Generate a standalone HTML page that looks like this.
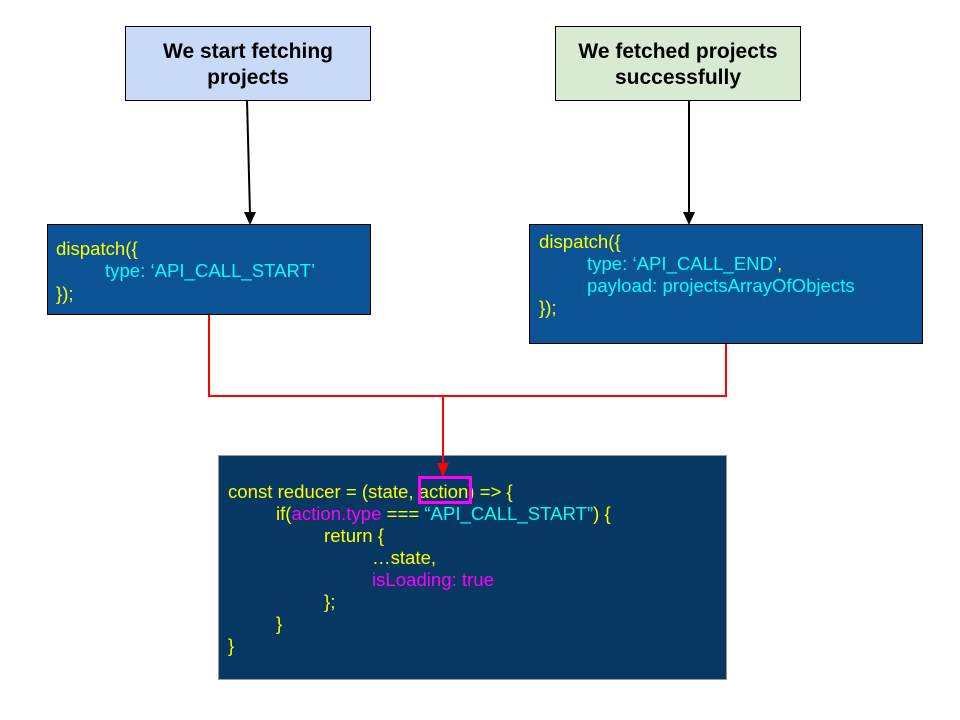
<!DOCTYPE html>
<html><head><meta charset="utf-8"><style>
body{margin:0;width:960px;height:720px;background:#fff;position:relative;overflow:hidden;font-family:"Liberation Sans",Arial,sans-serif}
.b{position:absolute;box-sizing:border-box}
.t{border:1px solid #000;display:flex;align-items:center;justify-content:center;text-align:center;font-weight:bold;font-size:21px;line-height:26px;color:#000}
.d{background:#0b5394;border:1px solid #000;font-size:18.6px;color:#ffff00}
.r{background:#073763;border:1px solid #999;font-size:18.6px;color:#ffff00}
.l{position:absolute;white-space:pre;line-height:22px}
.c{color:#00ffff}.m{color:#ff00ff}
</style></head><body>
<div class="b t" style="left:125px;top:26px;width:246px;height:75px;background:#c9daf8;padding-top:2px">We start fetching<br>projects</div>
<div class="b t" style="left:555px;top:26px;width:246px;height:75px;background:#d9ead3;padding-top:2px">We fetched projects<br>successfully</div>
<div class="b d" style="left:47px;top:224px;width:324px;height:91px">
<div class="l" style="left:8px;top:13px">dispatch({</div>
<div class="l c" style="left:57px;top:35px">type: ‘API_CALL_START’</div>
<div class="l" style="left:8px;top:58px">});</div>
</div>
<div class="b d" style="left:529px;top:224px;width:394px;height:120px">
<div class="l" style="left:9px;top:6px">dispatch({</div>
<div class="l" style="left:57px;top:28px"><span class="c">type: ‘API_CALL_END’</span>,</div>
<div class="l c" style="left:57px;top:50px">payload: projectsArrayOfObjects</div>
<div class="l" style="left:9px;top:72px">});</div>
</div>
<div class="b r" style="left:218px;top:455px;width:509px;height:225px">
<div class="l" style="left:9px;top:25px">const reducer = (state, action) =&gt; {</div>
<div class="l" style="left:57px;top:47px"><span>if(</span><span class="m">action.type</span> === <span class="c">“API_CALL_START”</span>) {</div>
<div class="l" style="left:105px;top:69px">return {</div>
<div class="l" style="left:153px;top:91px">…state,</div>
<div class="l m" style="left:153px;top:113px">isLoading: true</div>
<div class="l" style="left:105px;top:135px">};</div>
<div class="l" style="left:57px;top:157px">}</div>
<div class="l" style="left:9px;top:179px">}</div>
</div>
<div class="b" style="left:418px;top:476px;width:54px;height:28px;border:3px solid #ff00ff"></div>
<svg class="b" style="left:0;top:0" width="960" height="720">
<g stroke="#000" stroke-width="2" fill="none"><line x1="247" y1="100" x2="250" y2="214"/><line x1="689" y1="100" x2="689" y2="214"/></g>
<polygon points="244,212 256,212 250,225" fill="#000"/>
<polygon points="683,212 695,212 689,225" fill="#000"/>
<g stroke="#ff0000" stroke-width="2" fill="none"><polyline points="209,315 209,396 726,396 726,344"/><line x1="443" y1="396" x2="443" y2="465"/></g>
<polygon points="437,463 449,463 443,477" fill="#ff0000"/>
</svg>
</body></html>
